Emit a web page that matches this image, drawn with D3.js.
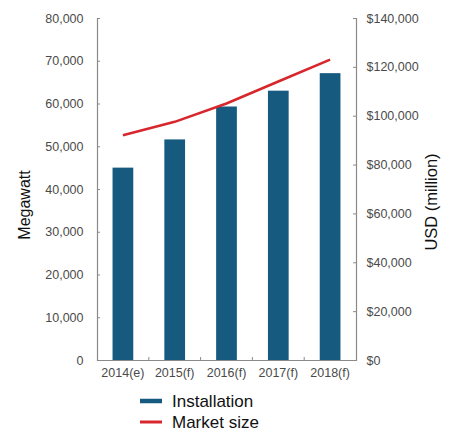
<!DOCTYPE html>
<html>
<head>
<meta charset="utf-8">
<script src="https://cdn.jsdelivr.net/npm/d3@7"></script>
<style>
  html, body { margin: 0; padding: 0; background: #fff; }
  svg { display: block; font-family: "Liberation Sans", Arial, sans-serif; }
</style>
</head>
<body>
<svg id="chart" width="452" height="432"></svg>
<script>
// Solar PV outlook: installations (MW) and market size (USD million)
const years = ["2014(e)", "2015(f)", "2016(f)", "2017(f)", "2018(f)"];
const installation = [45000, 51600, 59300, 63000, 67100];
const marketSize = [92000, 97500, 105000, 114000, 123000];
const leftTicks = [0, 10000, 20000, 30000, 40000, 50000, 60000, 70000, 80000];
const rightTicks = [0, 20000, 40000, 60000, 80000, 100000, 120000, 140000];
const legendItems = ["Installation", "Market size"];

const barColor = "#175a80";
const lineColor = "#d7262c";
const axisColor = "#8a8a8a";
const labelColor = "#4a4a4a";

const svg = d3.select("#chart");
const plot = { left: 97, right: 356, top: 18, bottom: 360 };

const x = d3.scaleBand()
  .domain(years)
  .range([plot.left, plot.right])
  .paddingInner(0.6)
  .paddingOuter(0.3);

const yL = d3.scaleLinear().domain([0, 80000]).range([plot.bottom, plot.top]);
const yR = d3.scaleLinear().domain([0, 140000]).range([plot.bottom, plot.top]);

const fmt = d3.format(",");

// Left axis
const gL = svg.append("g")
  .attr("transform", `translate(${plot.left},0)`)
  .call(d3.axisLeft(yL).tickValues(leftTicks).tickFormat(fmt).tickSizeInner(-3).tickSizeOuter(-3).tickPadding(13.5));
gL.select(".domain").attr("stroke", axisColor).attr("stroke-width", 1.2);
gL.selectAll(".tick line").attr("stroke", axisColor);
gL.selectAll(".tick text").attr("fill", labelColor).style("font-size", "12.5px");

// Right axis
const gR = svg.append("g")
  .attr("transform", `translate(${plot.right},0)`)
  .call(d3.axisRight(yR).tickValues(rightTicks).tickFormat(d => "$" + fmt(d)).tickSizeInner(-3).tickSizeOuter(-3).tickPadding(10.5));
gR.select(".domain").attr("stroke", axisColor).attr("stroke-width", 1.2);
gR.selectAll(".tick line").attr("stroke", axisColor);
gR.selectAll(".tick text").attr("fill", labelColor).style("font-size", "12.5px");

// Bars
svg.append("g").selectAll("rect")
  .data(installation)
  .join("rect")
  .attr("x", (d, i) => x(years[i]))
  .attr("width", x.bandwidth())
  .attr("y", d => yL(d))
  .attr("height", d => yL(0) - yL(d))
  .attr("fill", barColor);

// Bottom axis
const gB = svg.append("g")
  .attr("transform", `translate(0,${plot.bottom})`)
  .call(d3.axisBottom(x).tickSize(0).tickPadding(8));
gB.select(".domain").attr("stroke", axisColor).attr("stroke-width", 1.2);
gB.selectAll(".tick text").attr("fill", labelColor).style("font-size", "12.5px");

// Small separators between categories on the baseline
const step = x.step();
const bounds = years.slice(1).map(y => x(y) - x.paddingInner() * step / 2);
svg.append("g").selectAll("line")
  .data(bounds)
  .join("line")
  .attr("x1", d => d).attr("x2", d => d)
  .attr("y1", plot.bottom).attr("y2", plot.bottom - 3)
  .attr("stroke", axisColor);

// Market size line
const line = d3.line()
  .x((d, i) => x(years[i]) + x.bandwidth() / 2)
  .y(d => yR(d));
svg.append("path")
  .datum(marketSize)
  .attr("d", line)
  .attr("fill", "none")
  .attr("stroke", lineColor)
  .attr("stroke-width", 2.5);

// Axis titles
svg.append("text")
  .attr("transform", "translate(30,205) rotate(-90)")
  .attr("text-anchor", "middle")
  .attr("fill", "#111")
  .style("font-size", "16px")
  .text("Megawatt");

svg.append("text")
  .attr("transform", "translate(437,202) rotate(-90)")
  .attr("text-anchor", "middle")
  .attr("fill", "#111")
  .style("font-size", "16.5px")
  .text("USD (million)");

// Legend
const legend = svg.append("g").attr("transform", "translate(140,401)");
const lg = legend.selectAll("g")
  .data(legendItems)
  .join("g")
  .attr("transform", (d, i) => `translate(0,${i * 21})`);
lg.append("line")
  .attr("x1", 0).attr("x2", 22)
  .attr("stroke", (d, i) => i === 0 ? barColor : lineColor)
  .attr("stroke-width", (d, i) => i === 0 ? 4.5 : 3);
lg.append("text")
  .attr("x", 32)
  .attr("dy", "0.35em")
  .attr("fill", "#111")
  .style("font-size", "17px")
  .text(d => d);
</script>
</body>
</html>
